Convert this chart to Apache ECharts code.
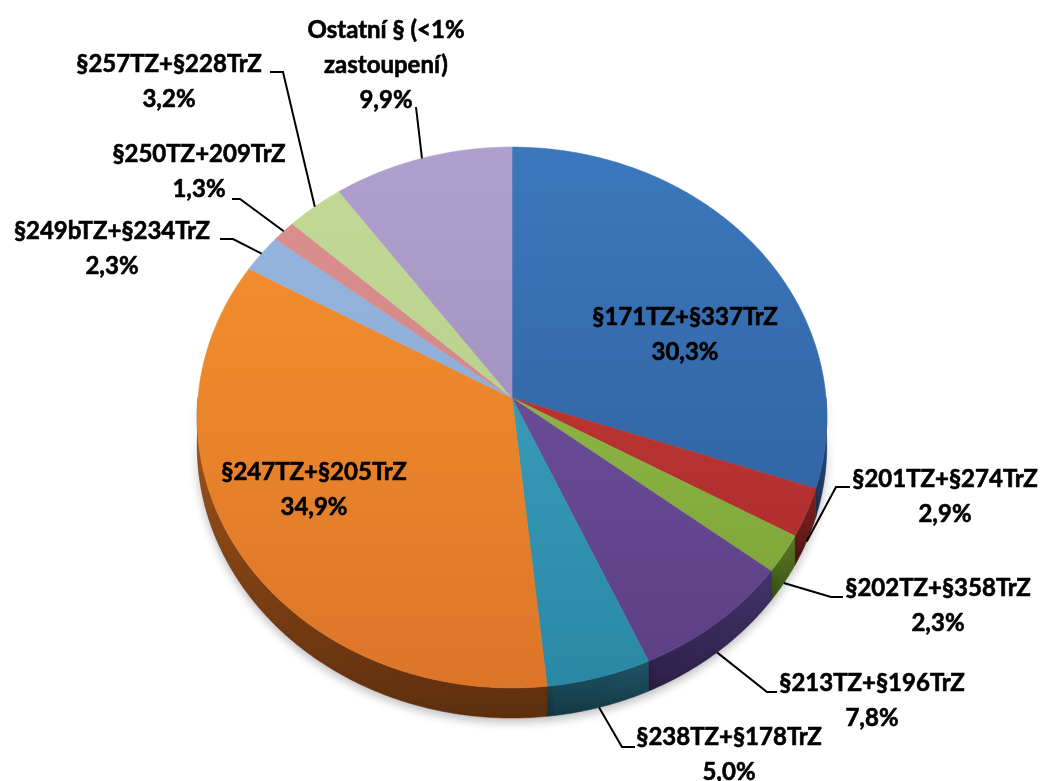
<!DOCTYPE html>
<html lang="cs">
	<head>
		<meta charset="UTF-8">
		<title></title>
		<style type="text/css">
			html,
			body,
			#main {
				padding: 0;
				margin: 0;
				overflow: hidden;
				background-color: #ffffff;
				width: 1054px;
				height: 781px;
			}
		</style>
	</head>
	<body>
		<div id="main"></div>
		<script type="text/javascript" src="https://cdn.jsdelivr.net/npm/echarts@6/dist/echarts.min.js"></script>
		<script type="text/javascript">
			// kategorie a podíly (v %)
			const names = [
				'§171TZ+§337TrZ',
				'§201TZ+§274TrZ',
				'§202TZ+§358TrZ',
				'§213TZ+§196TrZ',
				'§238TZ+§178TrZ',
				'§247TZ+§205TrZ',
				'§249bTZ+§234TrZ',
				'§250TZ+209TrZ',
				'§257TZ+§228TrZ',
				'Ostatní § (<1%\nzastoupení)'
			];
			const values = [30.3, 2.9, 2.3, 7.8, 5.0, 34.9, 2.3, 1.3, 3.2, 9.9];

			// barvy: [horní plocha nahoře, horní plocha dole, bok nahoře, bok dole]
			const colors = [
				['#3d78be', '#2c5b98', '#2a4f85', '#1b355c'],
				['#c63c39', '#a82b28', '#7e2222', '#551616'],
				['#9dc452', '#79a034', '#5a7a26', '#3b5317'],
				['#7858a5', '#5b3e84', '#46346c', '#2b1f45'],
				['#45abc9', '#2a88a5', '#1f5667', '#133843'],
				['#f8952f', '#dc7528', '#a9581c', '#5e2f0e'],
				['#98b8e2', '#84a4d0', '#5f7da6', '#425a7c'],
				['#dc9190', '#cc7f7e', '#955453', '#6a3a39'],
				['#c3da98', '#b1c985', '#7f9558', '#5b6b3e'],
				['#b0a0cd', '#9a89b8', '#6f6287', '#4e4461']
			];

			// umístění popisků (střed bloku) a vodicích čar (bod u popisku, délka vodorovného úseku)
			const labelPos = [
				[685, 335], [945, 497], [938, 606], [872, 701], [729, 755],
				[314, 490], [112, 249], [199, 172], [169, 82], [386, 65]
			];
			const leaderPos = [
				null, [850, 487, -14], [843, 597, -12], [777, 692, -10], [635, 747, -13],
				null, [220, 239, 13], [232, 199, 8], [270, 72, 13], [416, 107, 0]
			];

			// geometrie 3D koláče (perspektiva)
			const CX = 512, CY = 398, RX = 314, RY = 269, K = 0.072, DEPTH = 28;

			const total = values.reduce((a, b) => a + b, 0);
			const starts = [];
			let acc = 0;
			values.forEach(v => { starts.push(acc / total * 360); acc += v; });

			function proj(deg, depth) {
				const t = deg * Math.PI / 180;
				const u = Math.sin(t), v = -Math.cos(t);
				const s = 1 / (1 - K * v);
				return [CX + RX * u * s, CY + RY * v * s + (depth || 0) * s];
			}
			function arc(a0, a1, depth) {
				const pts = [];
				const n = Math.max(2, Math.ceil((a1 - a0) / 0.5));
				for (let i = 0; i <= n; i++) {
					pts.push(proj(a0 + (a1 - a0) * i / n, depth));
				}
				return pts;
			}
			function percent(v) {
				return v.toFixed(1).replace('.', ',') + '%';
			}

			function renderWall(params, api) {
				const i = params.dataIndex;
				const a0 = Math.max(starts[i], 90);
				const a1 = Math.min(starts[i] + values[i] / total * 360, 270);
				if (a1 <= a0) {
					return { type: 'group', children: [] };
				}
				const top = arc(a0, a1, 0);
				const bottom = arc(a0, a1, DEPTH).reverse();
				const fill = new echarts.graphic.LinearGradient(0, 0, 0, 1, [
					{ offset: 0, color: colors[i][2] },
					{ offset: 1, color: colors[i][3] }
				]);
				return {
					type: 'polygon',
					shape: { points: top.concat(bottom) },
					style: {
						fill: fill,
						stroke: colors[i][3],
						lineWidth: 0.5,
						shadowBlur: 10,
						shadowColor: 'rgba(0,0,0,0.25)',
						shadowOffsetY: 4
					}
				};
			}

			function renderTop(params, api) {
				const i = params.dataIndex;
				const a0 = starts[i];
				const a1 = a0 + values[i] / total * 360;
				const pts = [[CX, CY]].concat(arc(a0, a1, 0));
				const fill = new echarts.graphic.LinearGradient(0, CY - RY, 0, CY + RY * 1.08, [
					{ offset: 0, color: colors[i][0] },
					{ offset: 1, color: colors[i][1] }
				], true);
				return {
					type: 'polygon',
					shape: { points: pts },
					style: { fill: fill, stroke: fill, lineWidth: 0.6 }
				};
			}

			function renderLabel(params, api) {
				const i = params.dataIndex;
				const children = [];
				const lp = labelPos[i];
				children.push({
					type: 'text',
					style: {
						text: names[i] + '\n' + percent(values[i]),
						x: lp[0],
						y: lp[1],
						align: 'center',
						verticalAlign: 'middle',
						font: 'bold 24px Lato',
						lineHeight: 35,
						fill: '#000000',
						stroke: '#000000',
						lineWidth: 0.6
					}
				});
				const ld = leaderPos[i];
				if (ld) {
					const mid = starts[i] + values[i] / total * 180;
					const front = Math.cos(mid * Math.PI / 180) < 0;
					const p = proj(mid, front ? DEPTH : 0);
					children.push({
						type: 'polyline',
						shape: { points: [p, [ld[0] + ld[2], ld[1]], [ld[0], ld[1]]] },
						style: { stroke: '#000000', lineWidth: 2, fill: null }
					});
				}
				return { type: 'group', children: children };
			}

			const chart = echarts.init(document.getElementById('main'), null, { renderer: 'canvas' });
			chart.setOption({
				backgroundColor: '#ffffff',
				animation: false,
				series: [
					{ type: 'custom', coordinateSystem: 'none', z: 1, data: values, renderItem: renderWall, silent: true },
					{ type: 'custom', coordinateSystem: 'none', z: 2, data: values, renderItem: renderTop, silent: true },
					{ type: 'custom', coordinateSystem: 'none', z: 3, data: values, renderItem: renderLabel, silent: true }
				]
			});
		</script>
	</body>
</html>
